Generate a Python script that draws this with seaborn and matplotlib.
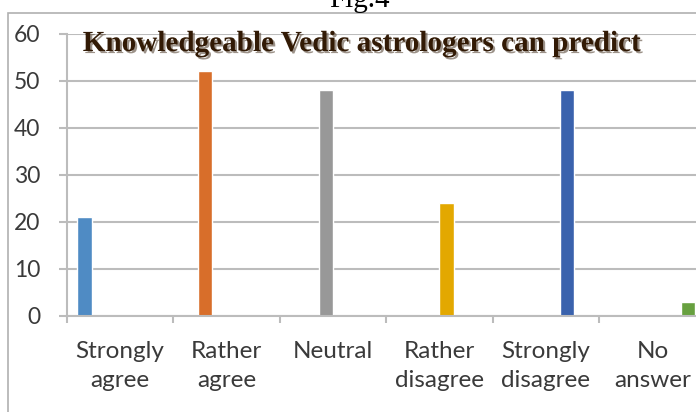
import matplotlib
matplotlib.use("Agg")
import matplotlib.pyplot as plt
import matplotlib.patheffects as pe
from matplotlib.patches import Rectangle
import pandas as pd
import seaborn as sns

# --- data ---
categories = ["Strongly agree", "Rather agree", "Neutral",
              "Rather disagree", "Strongly disagree", "No answer"]
tick_labels = ["Strongly\nagree", "Rather\nagree", "Neutral",
               "Rather\ndisagree", "Strongly\ndisagree", "No\nanswer"]
counts = [21, 52, 48, 24, 48, 3]
bar_colors = ["#4f8bc4", "#d86e2a", "#989898", "#e3a800", "#3a62ad", "#67a03f"]
y_ticks = [0, 10, 20, 30, 40, 50, 60]

df = pd.DataFrame({"answer": categories, "series": categories, "count": counts})

sns.set_theme(style="white")
plt.rcParams["font.family"] = ["Lato", "DejaVu Sans"]

W, H = 696, 412
fig = plt.figure(figsize=(W / 100, H / 100), dpi=100)
fig.patch.set_facecolor("white")

# plot area (runs past the right edge like the cropped original)
ax_left, ax_bottom = 66.7, 412 - 316
ax = fig.add_axes([ax_left / W, ax_bottom / H, 639 / W, 282.5 / H])

sns.barplot(data=df, x="answer", y="count", hue="series",
            hue_order=categories, order=categories, palette=bar_colors,
            dodge=True, width=0.8, legend=False, saturation=1, ax=ax)

ax.set_xlim(-0.5, len(categories) - 0.5)
ax.set_ylim(0, 60)
ax.set_yticks(y_ticks)
ax.set_xlabel("")
ax.set_ylabel("")

grid_c = "#bcbcbc"
ax.yaxis.grid(True, color=grid_c, linewidth=1.5)
ax.set_axisbelow(True)
for s in ["top", "right"]:
    ax.spines[s].set_visible(False)
for s in ["left", "bottom"]:
    ax.spines[s].set_color(grid_c)
    ax.spines[s].set_linewidth(1.5)

ax.set_xticks(range(len(categories)))
ax.set_xticklabels(tick_labels, linespacing=1.45)
ax.set_xticks([i - 0.5 for i in range(len(categories) + 1)], minor=True)
ax.tick_params(axis="x", which="major", length=0, pad=18, labelsize=17.5,
               labelcolor="#3a3a3a")
ax.tick_params(axis="x", which="minor", length=5, width=1.5, color=grid_c,
               direction="out", bottom=True)
ax.tick_params(axis="y", length=6, width=1.5, color=grid_c, pad=13,
               labelsize=16.5, labelcolor="#3a3a3a", left=True)

# chart title inside the plot, dark brown with shadow
fig.text(361 / W, (H - 51) / H, "Knowledgeable Vedic astrologers can predict",
         family=["Liberation Serif"], fontweight="bold", fontsize=21,
         color="#321a05", ha="center", va="baseline",
         path_effects=[pe.withSimplePatchShadow(offset=(1.5, -1.5),
                                                shadow_rgbFace="#5a4a3a",
                                                alpha=0.6)])

# caption cut off by the top edge, as in the source scan
fig.text(359 / W, (H - 7) / H, "Fig.4", family=["Liberation Serif"],
         fontsize=21, color="black", ha="center", va="baseline")

# outer chart border
fig.patches.append(Rectangle((8 / W, -0.05), 1.1, (H - 12.7) / H + 0.05,
                             transform=fig.transFigure, fill=False,
                             edgecolor="#b0b0b0", linewidth=1.2))

fig.savefig("out.png", dpi=100)
